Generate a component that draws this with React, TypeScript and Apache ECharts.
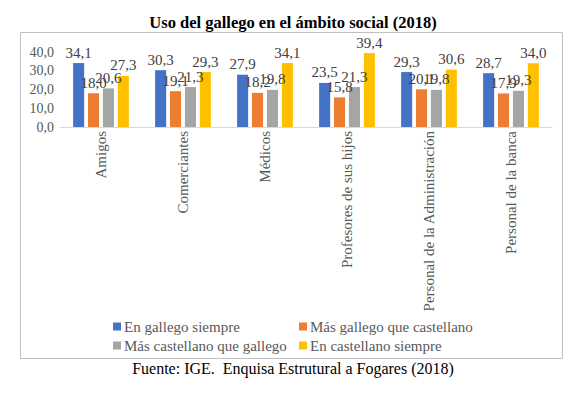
import React, { useEffect, useRef } from "react";
import * as echarts from "echarts";

const categories = [
  "Amigos",
  "Comerciantes",
  "Médicos",
  "Profesores de sus hijos",
  "Personal de la Administración",
  "Personal de la banca",
];
const seriesNames = [
  "En gallego siempre",
  "Más gallego que castellano",
  "Más castellano que gallego",
  "En castellano siempre",
];
const enGallegoSiempre = [34.1, 30.3, 27.9, 23.5, 29.3, 28.7];
const masGallego = [18.0, 19.1, 18.2, 15.8, 20.1, 17.9];
const masCastellano = [20.6, 21.3, 19.8, 21.3, 19.8, 19.3];
const enCastellanoSiempre = [27.3, 29.3, 34.1, 39.4, 30.6, 34.0];
const colors = ["#4472C4", "#ED7D31", "#A5A5A5", "#FFC000"];
const titleText = "Uso del gallego en el ámbito social (2018)";
const sourceText = "Fuente: IGE.  Enquisa Estrutural a Fogares (2018)";

const FONT = "Liberation Serif";
const fmt = (v: number) => v.toFixed(1).replace(".", ",");

export default function App() {
  const ref = useRef<HTMLDivElement>(null);
  useEffect(() => {
    if (!ref.current) return;
    const chart = echarts.init(ref.current, null, { renderer: "svg" });
    const data = [enGallegoSiempre, masGallego, masCastellano, enCastellanoSiempre];
    const legendText = { fontFamily: FONT, fontSize: 15, color: "#595959", padding: [0, 0, 0, -2] };
    chart.setOption({
      animation: false,
      backgroundColor: "#ffffff",
      textStyle: { fontFamily: FONT },
      title: {
        text: titleText,
        left: "center",
        top: 9,
        textStyle: { fontFamily: FONT, fontWeight: "bold", fontSize: 16.5, color: "#000" },
      },
      legend: [
        {
          orient: "vertical",
          left: 108,
          top: 314,
          itemWidth: 8,
          itemHeight: 8,
          itemGap: 4,
          icon: "rect",
          data: [seriesNames[0], seriesNames[2]],
          textStyle: legendText,
        },
        {
          orient: "vertical",
          left: 294,
          top: 314,
          itemWidth: 8,
          itemHeight: 8,
          itemGap: 4,
          icon: "rect",
          data: [seriesNames[1], seriesNames[3]],
          textStyle: legendText,
        },
      ],
      grid: { left: 60, right: 34, top: 52, height: 75, containLabel: false },
      xAxis: {
        type: "category",
        data: categories,
        axisLine: { lineStyle: { color: "#D9D9D9" } },
        axisTick: { show: false },
        axisLabel: {
          rotate: 90,
          interval: 0,
          margin: 4,
          fontFamily: FONT,
          fontSize: 15,
          color: "#595959",
        },
      },
      yAxis: {
        type: "value",
        min: 0,
        max: 40,
        interval: 10,
        splitLine: { show: false },
        axisLine: { show: false },
        axisTick: { show: false },
        axisLabel: {
          formatter: (v: number) => fmt(v),
          fontFamily: FONT,
          fontSize: 14,
          color: "#595959",
          margin: 6,
        },
      },
      graphic: [
        {
          type: "rect",
          shape: { x: 20.5, y: 32.5, width: 542, height: 326 },
          style: { fill: "none", stroke: "#BFBFBF", lineWidth: 1 },
          z: -1,
        },
        {
          type: "text",
          left: "center",
          top: 360,
          style: { text: sourceText, fontFamily: FONT, fontSize: 16, fill: "#000" },
        },
      ],
      series: seriesNames.map((name, i) => ({
        name,
        type: "bar",
        data: data[i],
        barGap: "35%",
        barCategoryGap: "32%",
        itemStyle: { color: colors[i] },
        label: {
          show: true,
          position: "top",
          distance: 3,
          formatter: (p: any) => fmt(p.value),
          fontFamily: FONT,
          fontSize: 15,
          color: "#404040",
        },
      })),
    });
    return () => chart.dispose();
  }, []);
  return (
    <div
      ref={ref}
      style={{ position: "absolute", left: 0, top: 0, width: 586, height: 398 }}
    />
  );
}
